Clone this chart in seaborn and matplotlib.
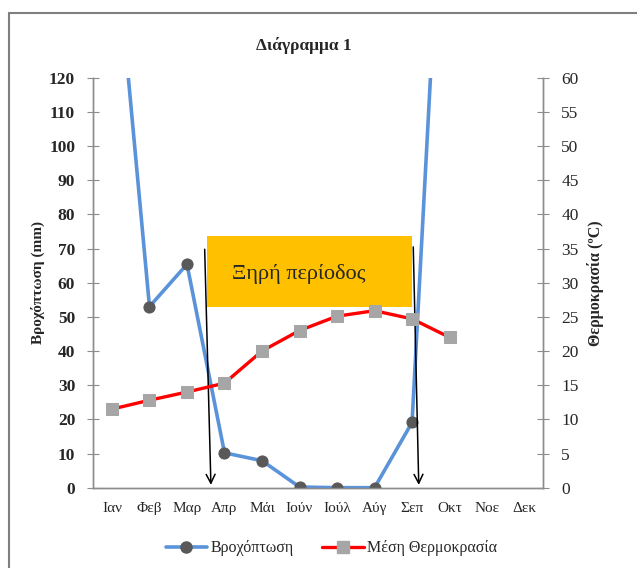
import numpy as np
import pandas as pd
import matplotlib
matplotlib.use('Agg')
import matplotlib.pyplot as plt
from matplotlib.patches import Rectangle
from matplotlib.lines import Line2D
import seaborn as sns

# data
months = ['Ιαν', 'Φεβ', 'Μαρ', 'Απρ', 'Μάι', 'Ιούν', 'Ιούλ', 'Αύγ', 'Σεπ', 'Οκτ', 'Νοε', 'Δεκ']
rain = [172, 53, 65.4, 10.2, 7.9, 0.2, 0, 0, 19.1, 225, np.nan, np.nan]
temp = [11.5, 12.8, 14.0, 15.3, 20.0, 23.0, 25.1, 25.9, 24.7, 22.0, np.nan, np.nan]

df = pd.DataFrame({'idx': np.arange(len(months)), 'month': months, 'rain': rain, 'temp': temp})

sns.set_style('white')
plt.rcParams['font.family'] = ['Liberation Serif', 'DejaVu Serif']

fig = plt.figure(figsize=(6.37, 5.68), dpi=100)
ax = fig.add_axes([0.1463, 0.1414, 0.853 - 0.1463, 0.8632 - 0.1414])
ax2 = ax.twinx()

blue = '#5B93DA'
red = '#FF0000'
spine_c = '#8C8C8C'

sns.lineplot(data=df, x='idx', y='rain', ax=ax, color=blue, lw=2.6, marker='o',
             markersize=8, markerfacecolor='#595959', markeredgecolor='#595959', zorder=3)
sns.lineplot(data=df, x='idx', y='temp', ax=ax2, color=red, lw=2.4, marker='s',
             markersize=8, markerfacecolor='#A6A6A6', markeredgecolor='#A6A6A6', zorder=3)

ax.set_xlim(-0.5, 11.5)
ax.set_ylim(0, 120)
ax2.set_ylim(0, 60)
ax.set_yticks(np.arange(0, 121, 10))
ax2.set_yticks(np.arange(0, 61, 5))
ax.set_xticks(df['idx'])
ax.set_xticklabels(months, fontsize=11)
ax.set_xticks(np.arange(-0.5, 12, 1), minor=True)
ax.tick_params(axis='x', which='major', length=0, pad=10)
ax.tick_params(axis='x', which='minor', length=5, color=spine_c, direction='out')
ax.tick_params(axis='y', length=8, direction='inout', color=spine_c, labelsize=12.5, pad=9)
ax2.tick_params(axis='y', length=8, direction='inout', color=spine_c, labelsize=12.5, pad=9)
for lab in ax.get_yticklabels():
    lab.set_fontweight('bold')

ax.set_xlabel('')
ax.set_ylabel('Βροχόπτωση (mm)', fontsize=11, fontweight='bold', labelpad=3)
ax2.set_ylabel('Θερμοκρασία (ºC)', fontsize=11.5, fontweight='bold', rotation=90, labelpad=6)

for a in (ax, ax2):
    a.spines['top'].set_visible(False)
    for s in ('left', 'right', 'bottom'):
        a.spines[s].set_color(spine_c)
        a.spines[s].set_linewidth(1.0)

fig.text(0.477, 0.92, 'Διάγραμμα 1', ha='center', va='center', fontsize=12.5, fontweight='bold')

# dry period box and arrows
ax.add_patch(Rectangle((2.525, 53.0), 8.0 - 2.525, 20.7, facecolor='#FFC000',
                       edgecolor='none', zorder=4, clip_on=False))
ax.text(3.2, 62.6, 'Ξηρή περίοδος', fontsize=16, va='center', ha='left', zorder=5)
ax.annotate('', xy=(2.64, 0), xytext=(2.47, 70.6),
            arrowprops=dict(arrowstyle='->', color='black', lw=1.1, mutation_scale=16), zorder=6)
ax.annotate('', xy=(8.18, 0), xytext=(8.03, 71.3),
            arrowprops=dict(arrowstyle='->', color='black', lw=1.1, mutation_scale=16), zorder=6)

# legend
handles = [Line2D([], [], color=blue, lw=2.6, marker='o', markersize=8,
                  markerfacecolor='#595959', markeredgecolor='#595959'),
           Line2D([], [], color=red, lw=2.4, marker='s', markersize=8,
                  markerfacecolor='#A6A6A6', markeredgecolor='#A6A6A6')]
fig.legend(handles, ['Βροχόπτωση', 'Μέση Θερμοκρασία'], loc='center', ncol=2,
           bbox_to_anchor=(0.52, 0.035), frameon=False, fontsize=11.5,
           handlelength=2.6, columnspacing=1.8, handletextpad=0.2)

# outer frame (cropped in the original)
fig.add_artist(Line2D([9 / 637, 9 / 637], [0, 1 - 13 / 568], transform=fig.transFigure,
                      color='#7F7F7F', lw=1.5))
fig.add_artist(Line2D([9 / 637, 1], [1 - 13 / 568, 1 - 13 / 568], transform=fig.transFigure,
                      color='#7F7F7F', lw=1.5))

fig.savefig('out.png', dpi=100)
